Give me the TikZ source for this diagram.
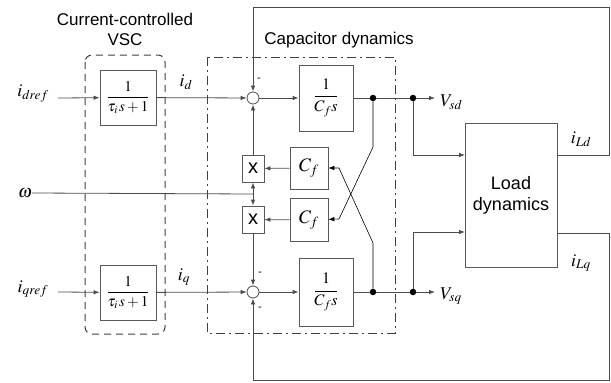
\documentclass[tikz,border=0pt]{standalone}
\usepackage{mathptmx}
\usepackage{fontspec}
\setmainfont{Liberation Sans}
\usetikzlibrary{arrows.meta}

\tikzset{
  wire/.style={draw=black!70, line width=0.8pt},
  blk/.style={draw=black!65, line width=0.8pt, inner sep=0pt, fill=white},
  sumnode/.style={circle, draw=black!70, line width=0.8pt, fill=white, minimum size=12pt, inner sep=0pt},
  dotnode/.style={circle, fill=black, minimum size=6.5pt, inner sep=0pt},
  txt/.style={font=\fontsize{17}{20}\selectfont, align=center, inner sep=0pt},
  mlbl/.style={font=\fontsize{18}{20}\selectfont, inner sep=0pt},
  sgn/.style={font=\fontsize{11}{11}\selectfont, inner sep=0pt}
}

\begin{document}
\begin{tikzpicture}[x=1pt, y=-1pt, >={Latex[length=6pt,width=4.5pt]}]
\useasboundingbox (0,0) rectangle (611,383);

% group frames
\draw[black!75, line width=1pt, dash pattern=on 7pt off 5pt, rounded corners=7pt] (85,55) rectangle (165,334);
\draw[black!75, line width=1pt, dash pattern=on 9pt off 4pt on 2pt off 4pt] (207,57) rectangle (395,333);
\node[txt] (vsclbl) at (125,29) {Current-controlled\\VSC};
\node[txt] (caplbl) at (339,40) {Capacitor dynamics};

% blocks
\node[blk, minimum width=56pt, minimum height=55pt, font=\fontsize{15}{17}\selectfont] (tfd) at (128,97.5) {$\displaystyle\frac{1}{\tau_{i}\mkern1.5mu s+1}$};
\node[blk, minimum width=56pt, minimum height=55pt, font=\fontsize{15}{17}\selectfont] (tfq) at (128,292.5) {$\displaystyle\frac{1}{\tau_{i}\mkern1.5mu s+1}$};
\node[sumnode] (sumd) at (253,98) {};
\node[sumnode] (sumq) at (253,292) {};
\node[blk, minimum width=54pt, minimum height=66pt, font=\fontsize{16}{18}\selectfont] (intd) at (326,98) {$\displaystyle\frac{1}{C_f s}$};
\node[blk, minimum width=54pt, minimum height=68pt, font=\fontsize{16}{18}\selectfont] (intq) at (326,292) {$\displaystyle\frac{1}{C_f s}$};
\node[blk, minimum width=38pt, minimum height=42pt, font=\fontsize{19}{20}\selectfont] (cfd) at (309,168) {$C_f$};
\node[blk, minimum width=38pt, minimum height=43pt, font=\fontsize{19}{20}\selectfont] (cfq) at (309,220) {$C_f$};
\node[blk, minimum width=22pt, minimum height=27pt, font=\fontsize{20}{20}\selectfont] (mulu) at (253,168.5) {x};
\node[blk, minimum width=22pt, minimum height=27pt, font=\fontsize{20}{20}\selectfont] (mull) at (253,219.5) {x};
\node[blk, minimum width=92pt, minimum height=144pt, font=\fontsize{18}{21}\selectfont, align=center] (load) at (511,195.5) {Load\\dynamics};

\node[dotnode] (dd1) at (373,98) {};
\node[dotnode] (dd2) at (413,98) {};
\node[dotnode] (dq1) at (373,292) {};
\node[dotnode] (dq2) at (413,292) {};

% labels
\node[mlbl] (idref) at (33,94) {$i_{dref}$};
\node[mlbl] (iqref) at (33,289) {$i_{qref}$};
\node[mlbl] (omega) at (25,193) {$\omega$};
\node[mlbl] (idl) at (186,82) {$i_d$};
\node[mlbl] (iql) at (184,277) {$i_q$};
\node[mlbl, anchor=west] (vsd) at (440,102) {$V_{sd}$};
\node[mlbl, anchor=west] (vsq) at (440,296) {$V_{sq}$};
\node[mlbl] (ild) at (581,139) {$i_{Ld}$};
\node[mlbl] (ilq) at (581,263) {$i_{Lq}$};
\node[sgn] (sd) at (259,80) {-};
\node[sgn] (sq1) at (260,274) {-};
\node[sgn] (sq2) at (260,309) {-};

% corner points
\coordinate (win) at (253,194);
\coordinate (kd) at (373,147);
\coordinate (kdd) at (339,219);
\coordinate (kq) at (373,243);
\coordinate (kqq) at (339,168);
\coordinate (fbd) at (557,155);
\coordinate (fbq) at (557,233);
\coordinate (ldin) at (465,155);
\coordinate (lqin) at (465,232);
\coordinate (vsdend) at (435,98);
\coordinate (vsqend) at (435,292);
\coordinate (idin) at (58,98);
\coordinate (iqin) at (58,292);

% d channel
\draw[wire,->] (idin) -- (tfd);
\draw[wire,->] (tfd) -- (sumd);
\draw[wire,->] (sumd) -- (intd);
\draw[wire] (intd) -- (dd1) -- (dd2);
\draw[wire,->] (dd2) -- (vsdend);
\draw[wire,->] (dd2) |- (ldin);

% q channel
\draw[wire,->] (iqin) -- (tfq);
\draw[wire,->] (tfq) -- (sumq);
\draw[wire,->] (sumq) -- (intq);
\draw[wire] (intq) -- (dq1) -- (dq2);
\draw[wire,->] (dq2) -- (vsqend);
\draw[wire,->] (dq2) |- (lqin);

% coupling
\draw[wire] (omega.east) -- (win);
\draw[wire,->] (win) -- (mulu);
\draw[wire,->] (win) -- (mull);
\draw[wire,->] (cfd) -- (mulu);
\draw[wire,->] (cfq) -- (mull);
\draw[wire,->] (mulu) -- (sumd);
\draw[wire,->] (mull) -- (sumq);
\draw[black, line width=0.6pt,->] (dd1) -- (kd) -- (kdd) -- (cfq);
\draw[black, line width=0.6pt,->] (dq1) -- (kq) -- (kqq) -- (cfd);

% load currents
\draw[wire,->] (fbd) -| (609,7) -| (sumd);
\draw[wire,->] (fbq) -| (609,380) -| (sumq);
\end{tikzpicture}
\end{document}
